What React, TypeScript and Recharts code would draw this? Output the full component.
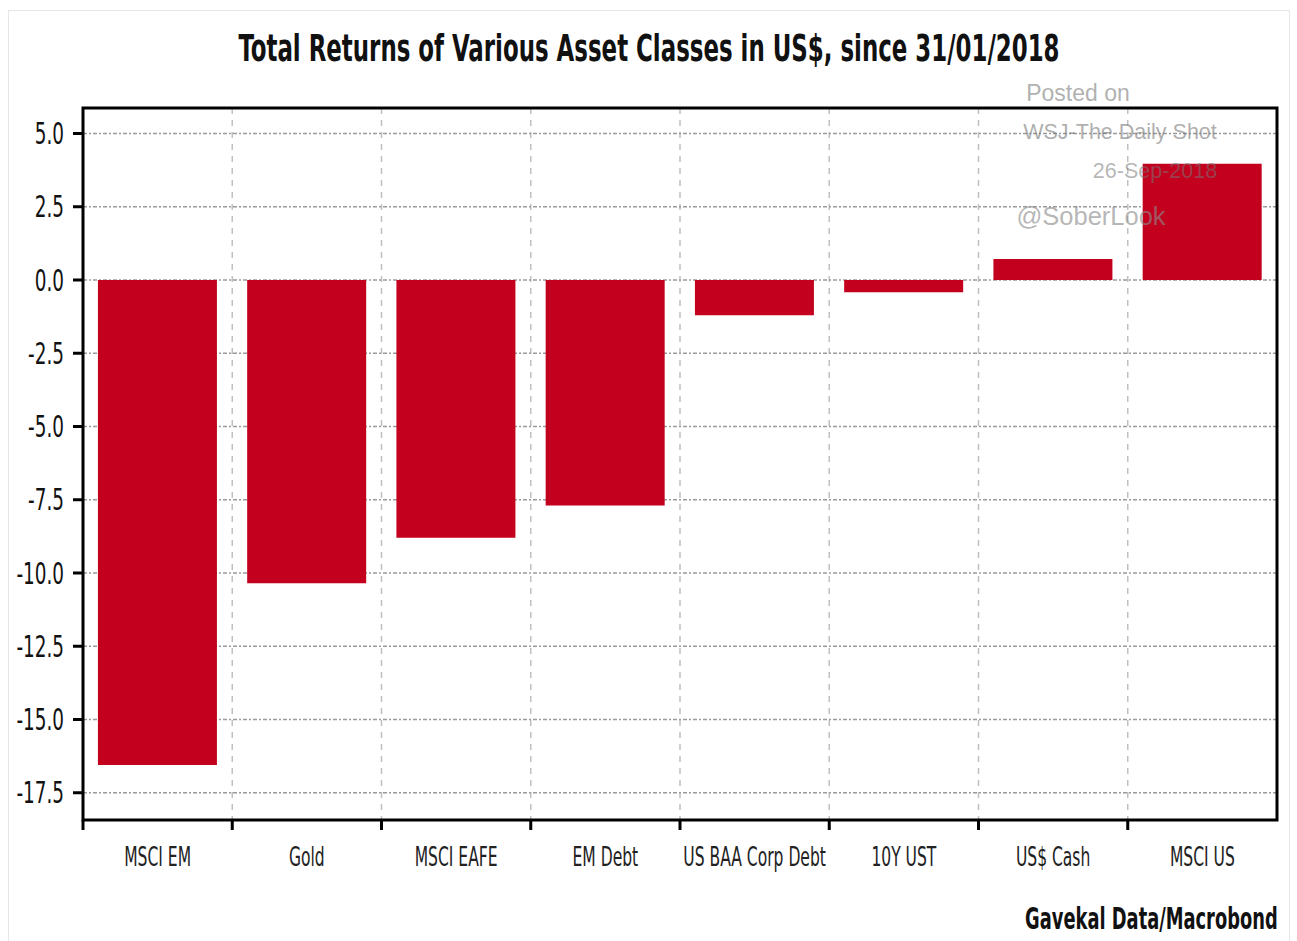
import React from "react";
import {
  BarChart,
  Bar,
  XAxis,
  YAxis,
  CartesianGrid,
  ReferenceArea,
} from "recharts";

const categories = [
  "MSCI EM",
  "Gold",
  "MSCI EAFE",
  "EM Debt",
  "US BAA Corp Debt",
  "10Y UST",
  "US$ Cash",
  "MSCI US",
];
const returns = [-16.55, -10.35, -8.8, -7.7, -1.2, -0.42, 0.72, 3.97];
const yTicks = [5, 2.5, 0, -2.5, -5, -7.5, -10, -12.5, -15, -17.5];
const yDomain = [-18.43, 5.87];
const boundaryTicks = [0, 1, 2, 3, 4, 5, 6, 7];
const title = "Total Returns of Various Asset Classes in US$, since 31/01/2018";
const source = "Gavekal Data/Macrobond";
const watermark = ["Posted on", "WSJ-The Daily Shot", "26-Sep-2018", "@SoberLook"];

const data = categories.map((name, i) => ({ name, value: returns[i] }));

const NARROW = "'DejaVu Sans Condensed', 'Liberation Sans Narrow', sans-serif";
const BAR_COLOR = "#C3001E";

const YTick = (props: any) => {
  const { x, y, payload } = props;
  return (
    <text
      transform={`translate(${x},${y}) scale(0.66,1)`}
      textAnchor="end"
      dominantBaseline="central"
      fontFamily={NARROW}
      fontSize={31}
      fill="#111"
    >
      {Number(payload.value).toFixed(1)}
    </text>
  );
};

const XTick = (props: any) => {
  const { x, y, payload } = props;
  return (
    <text
      transform={`translate(${x},${y}) scale(0.64,1)`}
      textAnchor="middle"
      dominantBaseline="hanging"
      fontFamily={NARROW}
      fontSize={27}
      fill="#222"
    >
      {payload.value}
    </text>
  );
};

export default function App() {
  return (
    <div
      style={{
        position: "absolute",
        left: 0,
        top: 0,
        width: 1297,
        height: 941,
        background: "#fff",
        overflow: "hidden",
      }}
    >
      <div
        style={{
          position: "absolute",
          left: 8,
          top: 10,
          width: 1282,
          height: 940,
          border: "1px solid #e6e6e6",
          boxSizing: "border-box",
        }}
      />
      <div
        style={{
          position: "absolute",
          left: 0,
          width: 1297,
          top: 24,
          textAlign: "center",
          fontFamily: NARROW,
          fontWeight: 700,
          fontSize: 38,
          lineHeight: "48px",
          color: "#111",
          transform: "scaleX(0.67)",
          transformOrigin: "650px 0",
          whiteSpace: "nowrap",
        }}
      >
        {title}
      </div>
      <div style={{ position: "absolute", left: 0, top: 0 }}>
        <BarChart
          width={1297}
          height={941}
          data={data}
          margin={{ top: 108, right: 20, bottom: 71, left: 0 }}
          barCategoryGap="10%"
        >
          <CartesianGrid
            xAxisId="b0"
            yAxisId="y"
            horizontal={false}
            vertical={true}
            stroke="#c0c0c0"
            strokeWidth={1.5}
            strokeDasharray="6 6"
          />
          <CartesianGrid
            xAxisId="b0"
            yAxisId="y"
            horizontal={true}
            vertical={false}
            stroke="#9a9a9a"
            strokeWidth={1.5}
            strokeDasharray="4 2 2 2"
          />
          <XAxis
            xAxisId="c1"
            dataKey="name"
            height={40}
            axisLine={false}
            tickLine={false}
            interval={0}
            tickMargin={10}
            tick={<XTick />}
          />
          <XAxis
            xAxisId="b0"
            type="number"
            dataKey="gx"
            domain={[0, 8]}
            ticks={boundaryTicks}
            allowDataOverflow
            height={10}
            axisLine={false}
            tickLine={{ stroke: "#000", strokeWidth: 3 }}
            tickSize={10}
            tickFormatter={() => ""}
            interval={0}
          />
          <YAxis
            yAxisId="y"
            width={83}
            domain={yDomain}
            ticks={yTicks}
            allowDataOverflow
            axisLine={false}
            tickLine={{ stroke: "#000", strokeWidth: 3 }}
            tickSize={10}
            tickMargin={9}
            interval={0}
            tick={<YTick />}
          />
          <Bar
            xAxisId="c1"
            yAxisId="y"
            dataKey="value"
            fill={BAR_COLOR}
            isAnimationActive={false}
          />
          <ReferenceArea
            xAxisId="b0"
            yAxisId="y"
            x1={0}
            x2={8}
            y1={yDomain[0]}
            y2={yDomain[1]}
            fill="none"
            fillOpacity={0}
            stroke="#000"
            strokeWidth={3}
            ifOverflow="visible"
          />
        </BarChart>
      </div>
      <div
        style={{
          position: "absolute",
          left: 1018,
          top: 80,
          width: 120,
          textAlign: "center",
          fontFamily: "'Liberation Sans', Arial, sans-serif",
          fontSize: 23,
          color: "rgba(150,150,150,0.75)",
          whiteSpace: "nowrap",
        }}
      >
        {watermark[0]}
      </div>
      <div
        style={{
          position: "absolute",
          left: 1010,
          top: 120,
          width: 220,
          textAlign: "center",
          fontFamily: "'Liberation Sans', Arial, sans-serif",
          fontSize: 21.5,
          color: "rgba(120,120,120,0.6)",
          whiteSpace: "nowrap",
        }}
      >
        {watermark[1]}
      </div>
      <div
        style={{
          position: "absolute",
          left: 1085,
          top: 159,
          width: 140,
          textAlign: "center",
          fontFamily: "'Liberation Sans', Arial, sans-serif",
          fontSize: 21.5,
          color: "rgba(120,120,120,0.55)",
          whiteSpace: "nowrap",
        }}
      >
        {watermark[2]}
      </div>
      <div
        style={{
          position: "absolute",
          left: 1008,
          top: 202,
          width: 166,
          textAlign: "center",
          fontFamily: "'Liberation Sans', Arial, sans-serif",
          fontSize: 25.5,
          color: "rgba(140,140,140,0.65)",
          whiteSpace: "nowrap",
        }}
      >
        {watermark[3]}
      </div>
      <div
        style={{
          position: "absolute",
          right: 19,
          top: 898,
          fontFamily: NARROW,
          fontWeight: 700,
          fontSize: 31,
          lineHeight: "40px",
          color: "#111",
          transform: "scaleX(0.64)",
          transformOrigin: "100% 0",
          whiteSpace: "nowrap",
        }}
      >
        {source}
      </div>
    </div>
  );
}
